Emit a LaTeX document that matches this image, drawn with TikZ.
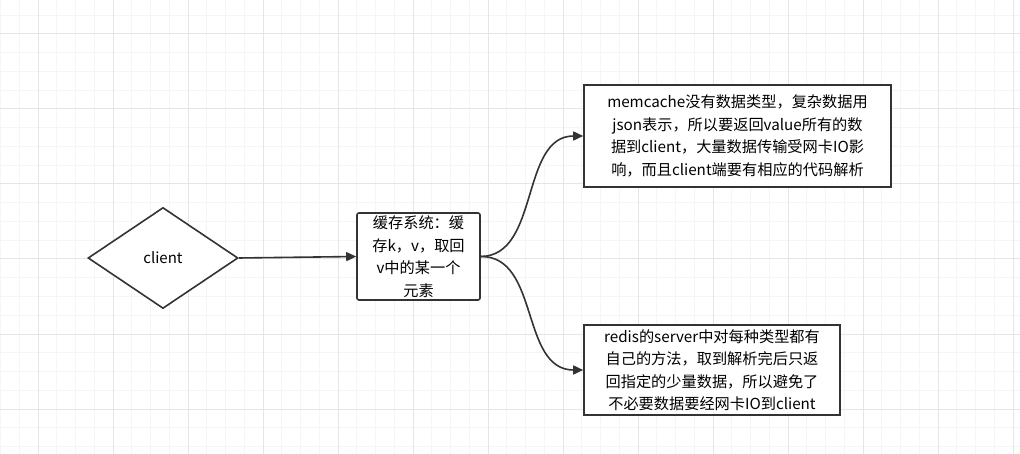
\documentclass[tikz,border=0pt]{standalone}
\usepackage{fontspec}
\setmainfont{Noto Sans CJK SC}
\usetikzlibrary{shapes.geometric,arrows.meta}
\definecolor{edge}{HTML}{333333}
\tikzset{
  box/.style={draw=edge,line width=1.6pt,rounded corners=2pt,align=center,inner sep=0pt,font=\fontsize{15.2}{22.5}\selectfont},
  link/.style={draw=edge,line width=1.6pt,-{Triangle[length=10pt,width=9pt]}}
}
\begin{document}
\begin{tikzpicture}[x=1pt,y=-1pt]
\useasboundingbox (0,0) rectangle (1020,454);
% grid
\foreach \i in {0,...,55}
  \draw[black!4,line width=1pt] ({0.5+\i*18.75},0) -- ++(0,454);
\foreach \i in {0,...,24}
  \draw[black!4,line width=1pt] (0,{-3.5+\i*18.75}) -- ++(1020,0);
\foreach \i in {0,...,13}
  \draw[black!10,line width=1pt] ({38+\i*75},0) -- ++(0,454);
\foreach \i in {0,...,5}
  \draw[black!10,line width=1pt] (0,{34+\i*75}) -- ++(1020,0);
% nodes
\node[diamond,draw=edge,line width=1.6pt,fill=white,minimum width=150pt,minimum height=101pt,aspect=1.5,inner sep=0pt,font=\fontsize{15}{18}\selectfont] (client) at (163,258) {client};
\node[box,fill=white,minimum width=123pt,minimum height=87pt] (cache) at (418.5,256.5) {缓存系统：缓\\存k，v，取回\\v中的某一个\\元素};
\node[box,fill=white,rounded corners=0pt,minimum width=307pt,minimum height=102pt] (memc) at (737.5,136) {memcache没有数据类型，复杂数据用\\json表示，所以要返回value所有的数\\据到client，大量数据传输受网卡IO影\\响，而且client端要有相应的代码解析};
\node[box,fill=white,rounded corners=0pt,minimum width=256pt,minimum height=90pt] (redis) at (712,370) {redis的server中对每种类型都有\\自己的方法，取到解析完后只返\\回指定的少量数据，所以避免了\\不必要数据要经网卡IO到client};
% connectors
\draw[link] (client.east) -- (cache.west);
\draw[link] (cache.east) .. controls (540,256) and (520,136) .. (memc.west);
\draw[link] (cache.east) .. controls (540,256) and (520,370) .. (redis.west);
\end{tikzpicture}
\end{document}
